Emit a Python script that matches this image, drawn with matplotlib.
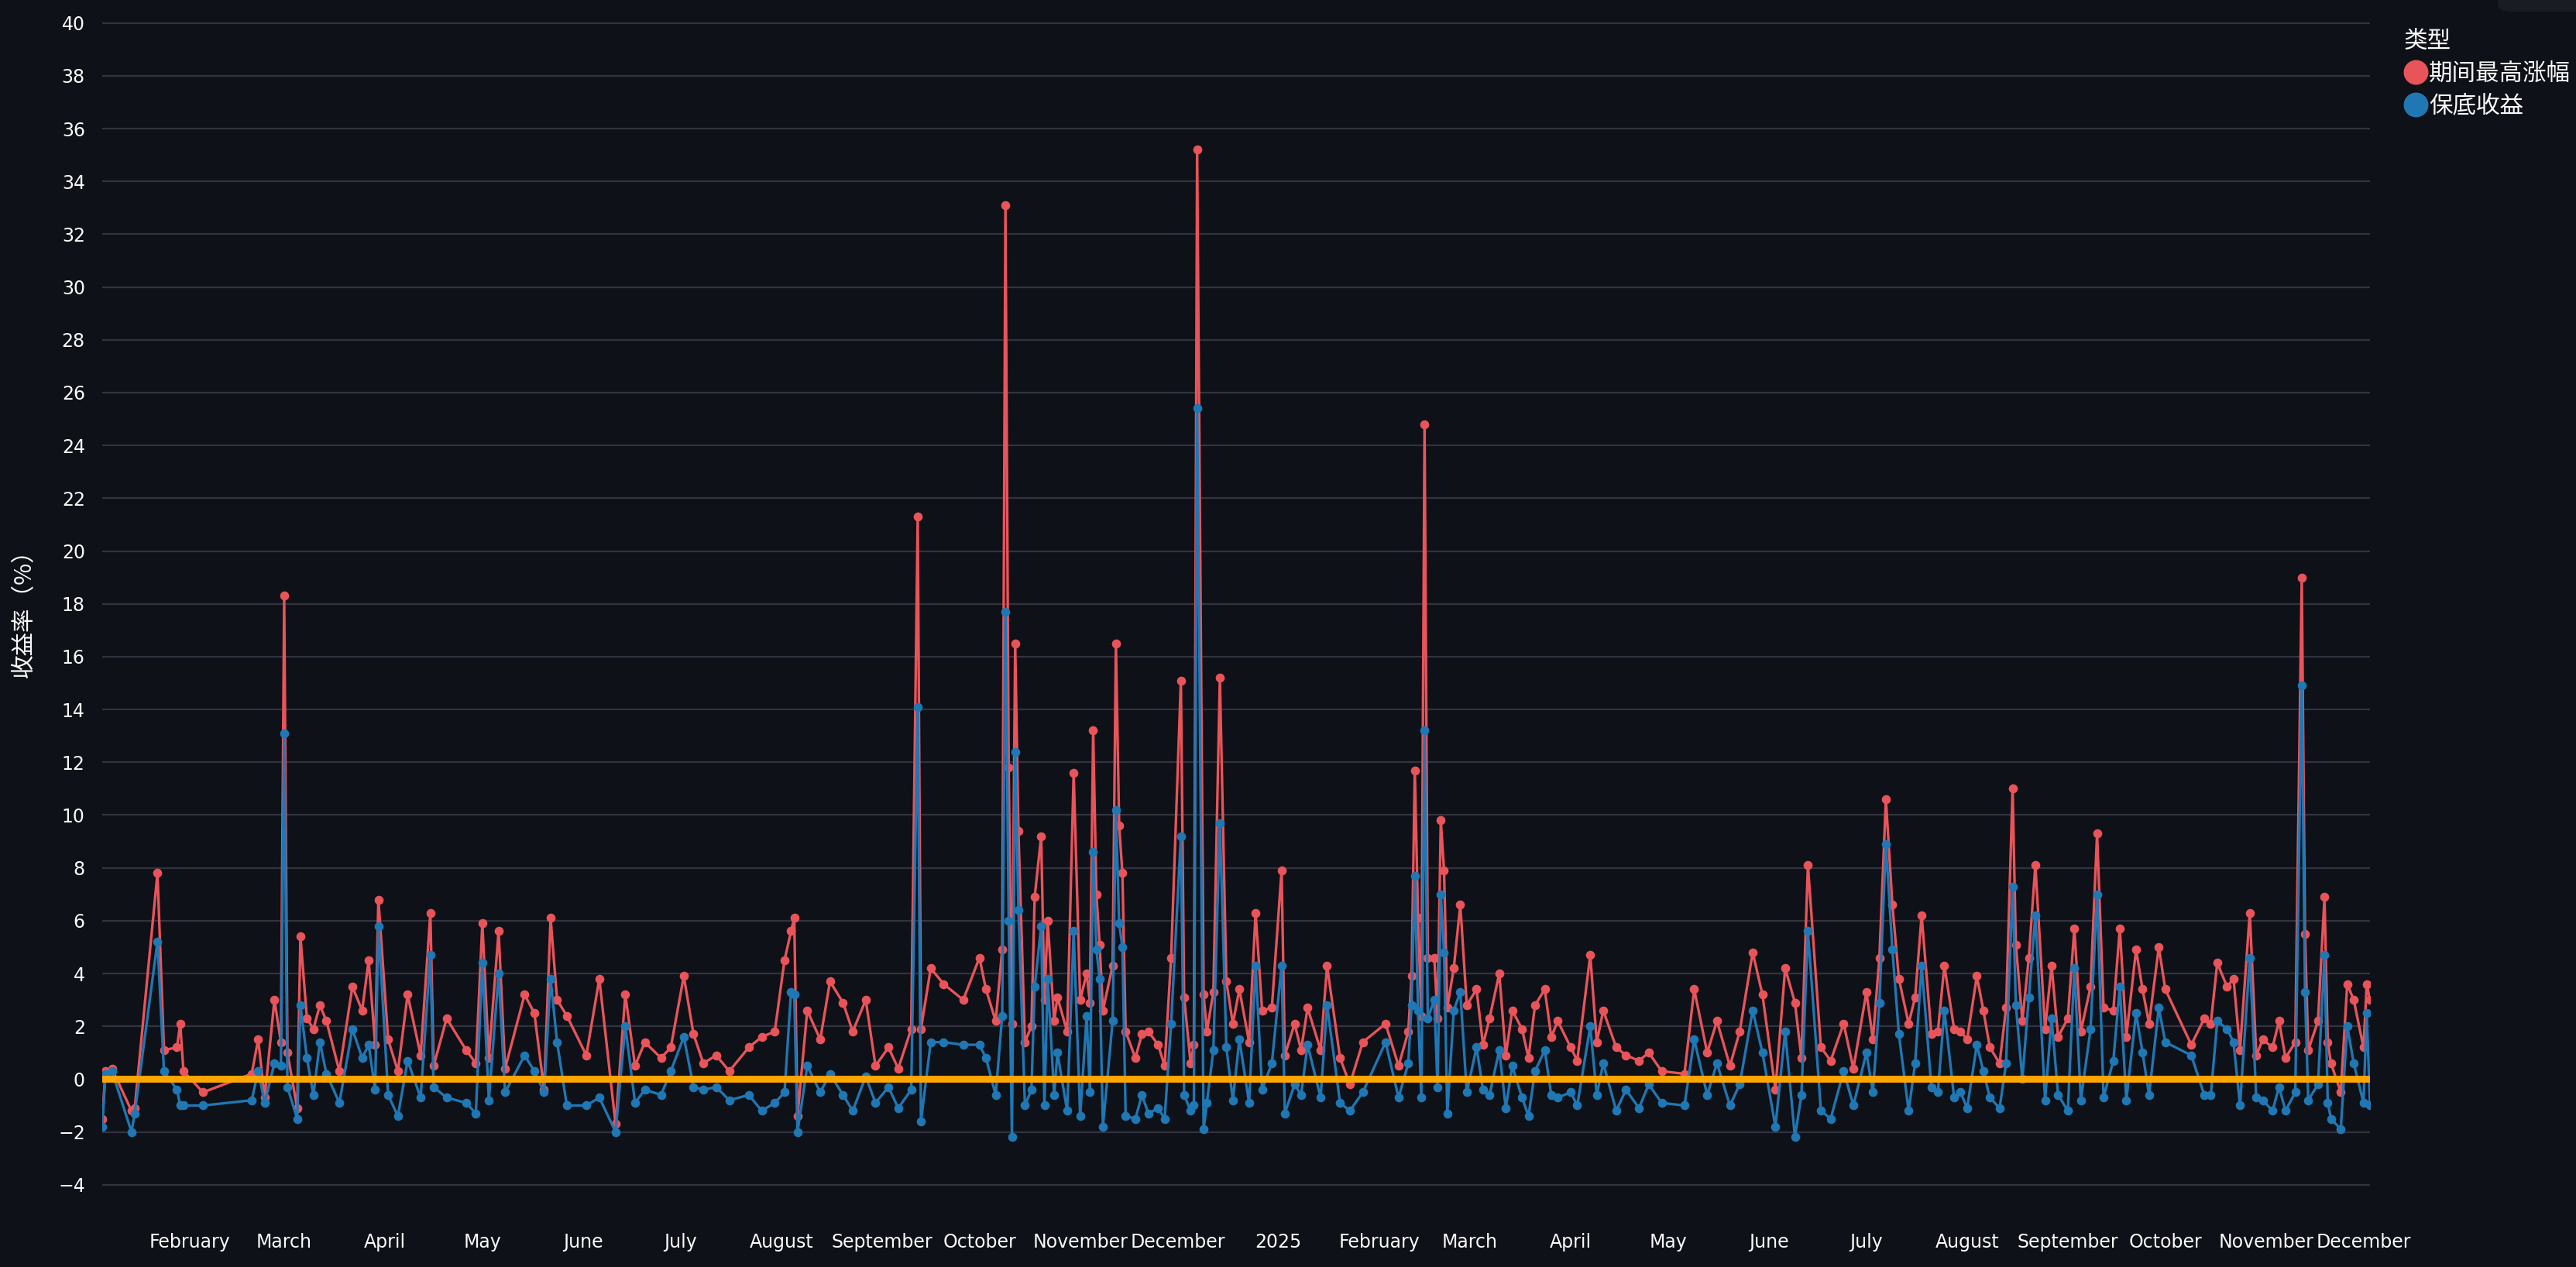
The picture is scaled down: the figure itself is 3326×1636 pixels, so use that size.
import matplotlib
matplotlib.use("Agg")
import matplotlib.pyplot as plt
from matplotlib import font_manager
from matplotlib.patches import FancyBboxPatch
import pandas as pd

dates = [
"2024-01-05","2024-01-06","2024-01-08","2024-01-14","2024-01-15","2024-01-22","2024-01-24","2024-01-28","2024-01-29","2024-01-30",
"2024-02-05","2024-02-20","2024-02-22","2024-02-24","2024-02-27","2024-02-29","2024-03-01","2024-03-02","2024-03-05","2024-03-06",
"2024-03-08","2024-03-10","2024-03-12","2024-03-14","2024-03-18","2024-03-22","2024-03-25","2024-03-27","2024-03-29","2024-03-30",
"2024-04-02","2024-04-05","2024-04-08","2024-04-12","2024-04-15","2024-04-16","2024-04-20","2024-04-26","2024-04-29","2024-05-01",
"2024-05-03","2024-05-06","2024-05-08","2024-05-14","2024-05-17","2024-05-20","2024-05-22","2024-05-24","2024-05-27","2024-06-02",
"2024-06-06","2024-06-11","2024-06-14","2024-06-17","2024-06-20","2024-06-25","2024-06-28","2024-07-02","2024-07-05","2024-07-08",
"2024-07-12","2024-07-16","2024-07-22","2024-07-26","2024-07-30","2024-08-02","2024-08-04","2024-08-05","2024-08-06","2024-08-09",
"2024-08-13","2024-08-16","2024-08-20","2024-08-23","2024-08-27","2024-08-30","2024-09-03","2024-09-06","2024-09-10","2024-09-12",
"2024-09-13","2024-09-16","2024-09-20","2024-09-26","2024-10-01","2024-10-03","2024-10-06","2024-10-08","2024-10-09","2024-10-10",
"2024-10-11","2024-10-12","2024-10-13","2024-10-15","2024-10-17","2024-10-18","2024-10-20","2024-10-21","2024-10-22","2024-10-24",
"2024-10-25","2024-10-28","2024-10-30","2024-11-01","2024-11-03","2024-11-04","2024-11-05","2024-11-06","2024-11-07","2024-11-08",
"2024-11-11","2024-11-12","2024-11-13","2024-11-14","2024-11-15","2024-11-18","2024-11-20","2024-11-22","2024-11-25","2024-11-27",
"2024-11-29","2024-12-02","2024-12-03","2024-12-05","2024-12-06","2024-12-07","2024-12-09","2024-12-10","2024-12-12","2024-12-14",
"2024-12-16","2024-12-18","2024-12-20","2024-12-23","2024-12-25","2024-12-27","2024-12-30","2025-01-02","2025-01-03","2025-01-06",
"2025-01-08","2025-01-10","2025-01-14","2025-01-16","2025-01-20","2025-01-23","2025-01-27","2025-02-03","2025-02-07","2025-02-10",
"2025-02-11","2025-02-12","2025-02-13","2025-02-14","2025-02-15","2025-02-16","2025-02-18","2025-02-19","2025-02-20","2025-02-21",
"2025-02-22","2025-02-24","2025-02-26","2025-02-28","2025-03-03","2025-03-05","2025-03-07","2025-03-10","2025-03-12","2025-03-14",
"2025-03-17","2025-03-19","2025-03-21","2025-03-24","2025-03-26","2025-03-28","2025-04-01","2025-04-03","2025-04-07","2025-04-09",
"2025-04-11","2025-04-15","2025-04-18","2025-04-22","2025-04-25","2025-04-29","2025-05-06","2025-05-09","2025-05-13","2025-05-16",
"2025-05-20","2025-05-23","2025-05-27","2025-05-30","2025-06-03","2025-06-06","2025-06-09","2025-06-11","2025-06-13","2025-06-17",
"2025-06-20","2025-06-24","2025-06-27","2025-07-01","2025-07-03","2025-07-05","2025-07-07","2025-07-09","2025-07-11","2025-07-14",
"2025-07-16","2025-07-18","2025-07-21","2025-07-23","2025-07-25","2025-07-28","2025-07-30","2025-08-01","2025-08-04","2025-08-06",
"2025-08-08","2025-08-11","2025-08-13","2025-08-15","2025-08-16","2025-08-18","2025-08-20","2025-08-22","2025-08-25","2025-08-27",
"2025-08-29","2025-09-01","2025-09-03","2025-09-05","2025-09-08","2025-09-10","2025-09-12","2025-09-15","2025-09-17","2025-09-19",
"2025-09-22","2025-09-24","2025-09-26","2025-09-29","2025-10-01","2025-10-09","2025-10-13","2025-10-15","2025-10-17","2025-10-20",
"2025-10-22","2025-10-24","2025-10-27","2025-10-29","2025-10-31","2025-11-03","2025-11-05","2025-11-07","2025-11-10","2025-11-12",
"2025-11-13","2025-11-14","2025-11-17","2025-11-19","2025-11-20","2025-11-21","2025-11-24","2025-11-26","2025-11-28","2025-12-01",
"2025-12-02","2025-12-03",
]
max_gain = [
-1.5,0.3,0.4,-1.2,-1.1,7.8,1.1,1.2,2.1,0.3,
-0.5,0.2,1.5,-0.7,3.0,1.4,18.3,1.0,-1.1,5.4,
2.3,1.9,2.8,2.2,0.3,3.5,2.6,4.5,1.3,6.8,
1.5,0.3,3.2,0.9,6.3,0.5,2.3,1.1,0.6,5.9,
0.8,5.6,0.4,3.2,2.5,-0.4,6.1,3.0,2.4,0.9,
3.8,-1.7,3.2,0.5,1.4,0.8,1.2,3.9,1.7,0.6,
0.9,0.3,1.2,1.6,1.8,4.5,5.6,6.1,-1.4,2.6,
1.5,3.7,2.9,1.8,3.0,0.5,1.2,0.4,1.9,21.3,
1.9,4.2,3.6,3.0,4.6,3.4,2.2,4.9,33.1,11.8,
2.1,16.5,9.4,1.4,2.0,6.9,9.2,3.0,6.0,2.2,
3.1,1.8,11.6,3.0,4.0,2.9,13.2,7.0,5.1,2.6,
4.3,16.5,9.6,7.8,1.8,0.8,1.7,1.8,1.3,0.5,
4.6,15.1,3.1,0.6,1.3,35.2,3.2,1.8,3.3,15.2,
3.7,2.1,3.4,1.4,6.3,2.6,2.7,7.9,0.9,2.1,
1.1,2.7,1.1,4.3,0.8,-0.2,1.4,2.1,0.5,1.8,
3.9,11.7,6.1,2.4,24.8,4.6,4.6,2.3,9.8,7.9,
2.7,4.2,6.6,2.8,3.4,1.3,2.3,4.0,0.9,2.6,
1.9,0.8,2.8,3.4,1.6,2.2,1.2,0.7,4.7,1.4,
2.6,1.2,0.9,0.7,1.0,0.3,0.2,3.4,1.0,2.2,
0.5,1.8,4.8,3.2,-0.4,4.2,2.9,0.8,8.1,1.2,
0.7,2.1,0.4,3.3,1.5,4.6,10.6,6.6,3.8,2.1,
3.1,6.2,1.7,1.8,4.3,1.9,1.8,1.5,3.9,2.6,
1.2,0.6,2.7,11.0,5.1,2.2,4.6,8.1,1.9,4.3,
1.6,2.3,5.7,1.8,3.5,9.3,2.7,2.6,5.7,1.6,
4.9,3.4,2.1,5.0,3.4,1.3,2.3,2.1,4.4,3.5,
3.8,1.1,6.3,0.9,1.5,1.2,2.2,0.8,1.4,19.0,
5.5,1.1,2.2,6.9,1.4,0.6,-0.5,3.6,3.0,1.2,
3.6,3.0,
]
floor_ret = [
-1.8,0.2,0.3,-2.0,-1.3,5.2,0.3,-0.4,-1.0,-1.0,
-1.0,-0.8,0.3,-0.9,0.6,0.5,13.1,-0.3,-1.5,2.8,
0.8,-0.6,1.4,0.2,-0.9,1.9,0.8,1.3,-0.4,5.8,
-0.6,-1.4,0.7,-0.7,4.7,-0.3,-0.7,-0.9,-1.3,4.4,
-0.8,4.0,-0.5,0.9,0.3,-0.5,3.8,1.4,-1.0,-1.0,
-0.7,-2.0,2.0,-0.9,-0.4,-0.6,0.3,1.6,-0.3,-0.4,
-0.3,-0.8,-0.6,-1.2,-0.9,-0.5,3.3,3.2,-2.0,0.5,
-0.5,0.2,-0.6,-1.2,0.1,-0.9,-0.3,-1.1,-0.4,14.1,
-1.6,1.4,1.4,1.3,1.3,0.8,-0.6,2.4,17.7,6.0,
-2.2,12.4,6.4,-1.0,-0.4,3.5,5.8,-1.0,3.8,-0.6,
1.0,-1.2,5.6,-1.4,2.4,-0.5,8.6,4.9,3.8,-1.8,
2.2,10.2,5.9,5.0,-1.4,-1.5,-0.6,-1.3,-1.1,-1.5,
2.1,9.2,-0.6,-1.2,-1.0,25.4,-1.9,-0.9,1.1,9.7,
1.2,-0.8,1.5,-0.9,4.3,-0.4,0.6,4.3,-1.3,-0.2,
-0.6,1.3,-0.7,2.8,-0.9,-1.2,-0.5,1.4,-0.7,0.6,
2.8,7.7,2.6,-0.7,13.2,2.3,3.0,-0.3,7.0,4.8,
-1.3,2.6,3.3,-0.5,1.2,-0.4,-0.6,1.1,-1.1,0.5,
-0.7,-1.4,0.3,1.1,-0.6,-0.7,-0.5,-1.0,2.0,-0.6,
0.6,-1.2,-0.4,-1.1,-0.2,-0.9,-1.0,1.5,-0.6,0.6,
-1.0,-0.2,2.6,1.0,-1.8,1.8,-2.2,-0.6,5.6,-1.2,
-1.5,0.3,-1.0,1.0,-0.5,2.9,8.9,4.9,1.7,-1.2,
0.6,4.3,-0.3,-0.5,2.6,-0.7,-0.5,-1.1,1.3,0.3,
-0.7,-1.1,0.6,7.3,2.8,0.0,3.1,6.2,-0.8,2.3,
-0.6,-1.2,4.2,-0.8,1.9,7.0,-0.7,0.7,3.5,-0.8,
2.5,1.0,-0.6,2.7,1.4,0.9,-0.6,-0.6,2.2,1.9,
1.4,-1.0,4.6,-0.7,-0.8,-1.2,-0.3,-1.2,-0.5,14.9,
3.3,-0.8,-0.2,4.7,-0.9,-1.5,-1.9,2.0,0.6,-0.9,
2.5,-1.0,
]
y_ticks = list(range(-4, 41, 2))
month_ticks = ["2024-02-01","2024-03-01","2024-04-01","2024-05-01","2024-06-01","2024-07-01","2024-08-01",
               "2024-09-01","2024-10-01","2024-11-01","2024-12-01","2025-01-01","2025-02-01","2025-03-01",
               "2025-04-01","2025-05-01","2025-06-01","2025-07-01","2025-08-01","2025-09-01","2025-10-01",
               "2025-11-01","2025-12-01"]
month_labels = ["February","March","April","May","June","July","August","September","October","November",
                "December","2025","February","March","April","May","June","July","August","September",
                "October","November","December"]

cjk = [f.name for f in font_manager.fontManager.ttflist if "CJK" in f.name]
pref = [n for n in ["Noto Sans CJK SC", "Noto Sans CJK JP", "Noto Sans CJK TC", "Noto Sans CJK KR"] if n in cjk]
cjk_family = pref[0] if pref else (cjk[0] if cjk else "DejaVu Sans")
plt.rcParams["font.family"] = ["DejaVu Sans", cjk_family]

BG = "#0e1117"
TXT = "#fafafa"
RED = "#e8545a"
BLUE = "#1f77b4"

d = pd.to_datetime(dates)
fig = plt.figure(figsize=(16.63, 8.18), dpi=200, facecolor=BG)
ax = fig.add_axes([132/3326, 1-1570/1636, (3060-132)/3326, 1570/1636])
ax.set_facecolor(BG)

ax.plot(d, max_gain, color=RED, lw=1.2, marker="o", ms=3.2, zorder=3)
ax.plot(d, floor_ret, color=BLUE, lw=1.2, marker="o", ms=3.2, zorder=4)
ax.axhline(0, color="#ffa500", lw=3.2, zorder=5)

ax.set_ylim(-5.18, 40.87)
ax.set_yticks(y_ticks)
ax.set_xlim(pd.Timestamp("2024-01-05"), pd.Timestamp("2025-12-03"))
ax.set_xticks(pd.to_datetime(month_ticks))
ax.set_xticklabels(month_labels)
ax.grid(axis="y", color="#31333f", lw=0.8)
ax.tick_params(colors=TXT, labelsize=8.5, length=0, pad=8)
for s in ax.spines.values():
    s.set_visible(False)
ax.set_ylabel("收益率（%）", color=TXT, fontsize=11, labelpad=10, family=cjk_family)

h1, = ax.plot([], [], color=RED, marker="o", ls="none", ms=10.5)
h2, = ax.plot([], [], color=BLUE, marker="o", ls="none", ms=10.5)
leg = fig.legend([h1, h2], ["期间最高涨幅", "保底收益"], title="类型", loc="upper left",
                 bbox_to_anchor=(3104/3326, 1-38/1636),
                 frameon=False, prop={"family": cjk_family, "size": 11},
                 title_fontproperties={"family": cjk_family, "size": 11}, labelcolor=TXT,
                 handletextpad=0.05, borderaxespad=0, labelspacing=0.35, handlelength=1.0, borderpad=0)
leg.get_title().set_color(TXT)
leg._legend_box.align = "left"

fig.patches.append(FancyBboxPatch((3225/3326, 1-15/1636), 0.05, 0.02, boxstyle="round,pad=0,rounding_size=0.006",
                                  transform=fig.transFigure, facecolor="#1a1c24", edgecolor="none"))
fig.savefig("out.png", dpi=200, facecolor=BG)
